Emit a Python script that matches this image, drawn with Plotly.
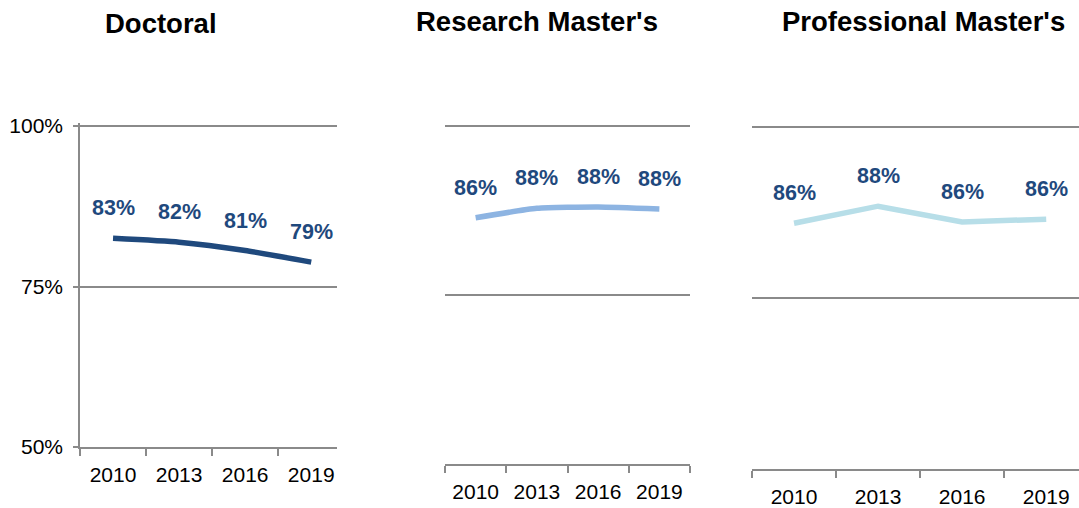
import plotly.graph_objects as go

W, H = 1079, 508

years = ["2010", "2013", "2016", "2019"]
panel_titles = ["Doctoral", "Research Master's", "Professional Master's"]

doctoral = [82.5, 81.9, 80.6, 78.8]
doctoral_labels = ["83%", "82%", "81%", "79%"]
research = [86.4, 87.8, 88.0, 87.7]
research_labels = ["86%", "88%", "88%", "88%"]
professional = [85.9, 88.4, 86.1, 86.5]
professional_labels = ["86%", "88%", "86%", "86%"]

y_ticks = [50, 75, 100]
y_tick_text = ["50%", "75%", "100%"]

series = [doctoral, research, professional]
labels = [doctoral_labels, research_labels, professional_labels]
colors = ["#1F497D", "#8DB4E2", "#B7DEE8"]
shapes_line = ["spline", "spline", "linear"]

FONT = "Liberation Sans, Arial, sans-serif"
GRID = "#8A8A8A"
LABEL_COLOR = "#1F497D"
YMAX = 100.4

# panel geometry in window pixels: (x0, x1, y of 50%, y of 100%, xrange_max)
geom = [
    (80, 337, 447, 126, 3.39),
    (445, 690, 464.3, 125.7, 3.5),
    (752, 1079, 469.3, 126.7, 3.39),
]
title_pos = [(161, 23), (537, 21), (923, 21)]


def fx(p):
    return p / W


def fy(p):
    return 1 - p / H


fig = go.Figure()
annotations = []
for i, (vals, labs, col, shp) in enumerate(zip(series, labels, colors, shapes_line)):
    xa = "x" if i == 0 else f"x{i+1}"
    ya = "y" if i == 0 else f"y{i+1}"
    fig.add_trace(go.Scatter(
        x=years, y=vals, mode="lines", xaxis=xa, yaxis=ya,
        line=dict(color=col, width=5.5, shape=shp, smoothing=0.5),
        hoverinfo="skip", showlegend=False,
    ))
    for k, (v, t) in enumerate(zip(vals, labs)):
        annotations.append(dict(
            x=k, y=v, xref=xa, yref=ya, text=f"<b>{t}</b>", showarrow=False,
            yshift=30, font=dict(family=FONT, size=21.5, color=LABEL_COLOR),
        ))
    tx, ty = title_pos[i]
    annotations.append(dict(
        x=fx(tx), y=fy(ty), xref="paper", yref="paper", showarrow=False,
        text=f"<b>{panel_titles[i]}</b>", xanchor="center", yanchor="middle",
        font=dict(family=FONT, size=27.5, color="black"),
    ))

layout = dict(
    width=W, height=H, margin=dict(l=0, r=0, t=0, b=0, autoexpand=False),
    paper_bgcolor="white", plot_bgcolor="white",
    annotations=annotations,
)
for i, (x0, x1, yb, yt, xmax) in enumerate(geom):
    xk = "xaxis" if i == 0 else f"xaxis{i+1}"
    yk = "yaxis" if i == 0 else f"yaxis{i+1}"
    per = (yb - yt) / 50.0
    ytop_px = yt - (YMAX - 100) * per
    layout[xk] = dict(
        domain=[fx(x0), min(1.0, fx(x1))], type="category", range=[-0.5, xmax],
        anchor="y" if i == 0 else f"y{i+1}", automargin=False,
        showline=True, linecolor=GRID, linewidth=1.5,
        showgrid=False, zeroline=False,
        ticks="outside", tickson="boundaries", ticklen=7, tickwidth=1.5, tickcolor=GRID,
        tickfont=dict(family=FONT, size=21, color="black"),
        ticklabelstandoff=8, fixedrange=True,
    )
    layout[yk] = dict(
        domain=[fy(yb), fy(ytop_px)], range=[50, YMAX],
        anchor="x" if i == 0 else f"x{i+1}", automargin=False,
        tickvals=y_ticks, ticktext=y_tick_text,
        showgrid=True, gridcolor=GRID, gridwidth=1.5, zeroline=False,
        showline=(i == 0), linecolor=GRID, linewidth=1.5,
        ticks="outside" if i == 0 else "", ticklen=5, tickwidth=1.5, tickcolor=GRID,
        showticklabels=(i == 0),
        tickfont=dict(family=FONT, size=21, color="black"),
        ticklabelstandoff=6, fixedrange=True,
    )
fig.update_layout(**layout)
fig.write_html(
    "out.html",
    config={"displayModeBar": False},
    post_script="document.body.style.margin='0';document.body.style.overflow='hidden';",
)
